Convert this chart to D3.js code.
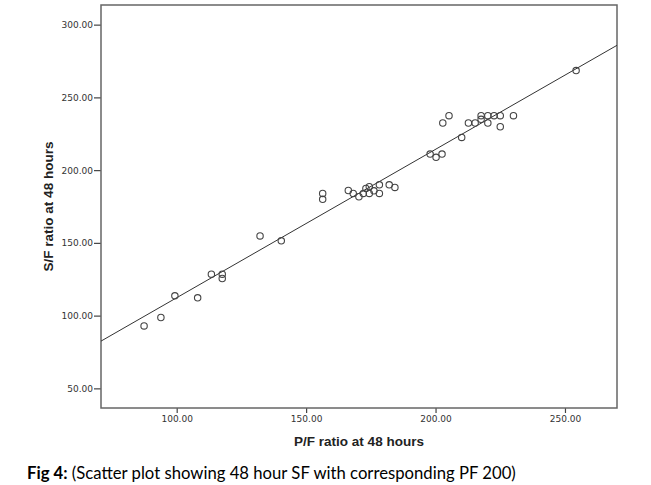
<!DOCTYPE html>
<html>
<head>
<meta charset="utf-8">
<script src="https://cdn.jsdelivr.net/npm/d3@7"></script>
<style>
  body { margin: 0; background: #fff; }
</style>
</head>
<body>
<svg id="chart"></svg>
<script>
// P/F ratio (x) and S/F ratio (y) at 48 hours
const pfRatio = [87.4, 93.9, 99.3, 108.1, 113.4, 117.6, 117.6, 132.2, 140.4,
  156.4, 156.4, 166.3, 168.2, 170.4, 172.1, 173.1, 174.4, 174.4, 176.2, 178.3, 178.3, 182.1, 184.3,
  197.9, 200.2, 202.5, 210.1, 202.8, 205.2, 212.7, 215.3, 217.6, 217.6, 220.2, 220.2, 222.6, 225.0, 225.0, 230.1,
  254.3];
const sfRatio = [92.9, 98.7, 113.6, 112.2, 128.5, 128.5, 125.5, 154.8, 151.4,
  184.0, 179.9, 186.0, 184.0, 181.7, 184.0, 187.4, 188.6, 184.0, 185.8, 189.9, 184.0, 189.9, 188.1,
  211.0, 208.8, 211.0, 222.5, 232.4, 237.4, 232.4, 232.4, 237.4, 234.9, 237.4, 232.4, 237.4, 237.4, 229.8, 237.4,
  268.4];
const xTicks = [100, 150, 200, 250];
const yTicks = [50, 100, 150, 200, 250, 300];
// fit line drawn in the figure
const fitSlope = 1.02;
const fitIntercept = 10.3;

const width = 651;
const height = 485;
const margin = ({top: 5, right: 34, bottom: 77, left: 101});

const svg = d3.select("#chart")
  .attr("width", width)
  .attr("height", height);

const x = d3.scaleLinear()
  .domain([70.76, 270.1])
  .range([margin.left, width - margin.right]);
const y = d3.scaleLinear()
  .domain([36.5, 313.5])
  .range([height - margin.bottom, margin.top]);

const fmt = d3.format(".2f");

const xAxis = g => g
  .attr("transform", `translate(0,${height - margin.bottom})`)
  .call(d3.axisBottom(x).tickValues(xTicks).tickFormat(fmt).tickSize(5).tickSizeOuter(0))
  .call(g => g.select(".domain").remove());
const yAxis = g => g
  .attr("transform", `translate(${margin.left},0)`)
  .call(d3.axisLeft(y).tickValues(yTicks).tickFormat(fmt).tickSize(7).tickSizeOuter(0))
  .call(g => g.select(".domain").remove())
  .call(g => g.selectAll(".tick text").attr("x", -8));

svg.append("g").call(xAxis);
svg.append("g").call(yAxis);

svg.selectAll(".tick text")
  .attr("font-family", "DejaVu Sans, sans-serif")
  .attr("font-size", 9)
  .attr("fill", "#333");
svg.selectAll(".tick line")
  .attr("stroke", "#444")
  .attr("stroke-width", 1.2);

// frame
svg.append("rect")
  .attr("x", margin.left)
  .attr("y", margin.top)
  .attr("width", width - margin.left - margin.right)
  .attr("height", height - margin.top - margin.bottom)
  .attr("fill", "none")
  .attr("stroke", "#666")
  .attr("stroke-width", 1.5);

// fit line across the plot
const line = d3.line()
  .x(d => x(d))
  .y(d => y(fitSlope * d + fitIntercept));
svg.append("path")
  .datum(x.domain())
  .attr("fill", "none")
  .attr("stroke", "#333")
  .attr("stroke-width", 1)
  .attr("d", line);

svg.selectAll(".dot")
  .data(d3.range(pfRatio.length))
  .enter()
  .append("circle")
  .attr("cx", i => x(pfRatio[i]))
  .attr("cy", i => y(sfRatio[i]))
  .attr("r", 3.2)
  .attr("fill", "none")
  .attr("stroke", "#444")
  .attr("stroke-width", 1.1);

svg.append("text")
  .attr("x", (margin.left + width - margin.right) / 2)
  .attr("y", 446)
  .attr("text-anchor", "middle")
  .attr("font-family", "Liberation Sans, Arial, sans-serif")
  .attr("font-weight", "bold")
  .attr("font-size", 13.5)
  .attr("fill", "#222")
  .text("P/F ratio at 48 hours");

svg.append("text")
  .attr("transform", `translate(53,${(margin.top + height - margin.bottom) / 2}) rotate(-90)`)
  .attr("text-anchor", "middle")
  .attr("font-family", "Liberation Sans, Arial, sans-serif")
  .attr("font-weight", "bold")
  .attr("font-size", 13.5)
  .attr("fill", "#222")
  .text("S/F ratio at 48 hours");

const caption = svg.append("text")
  .attr("x", 27)
  .attr("y", 479)
  .attr("font-family", "Lato, sans-serif")
  .attr("font-size", 16.7)
  .attr("fill", "#000");
caption.append("tspan").attr("font-weight", "bold").text("Fig 4:");
caption.append("tspan").text(" (Scatter plot showing 48 hour SF with corresponding PF 200)");
</script>
</body>
</html>
